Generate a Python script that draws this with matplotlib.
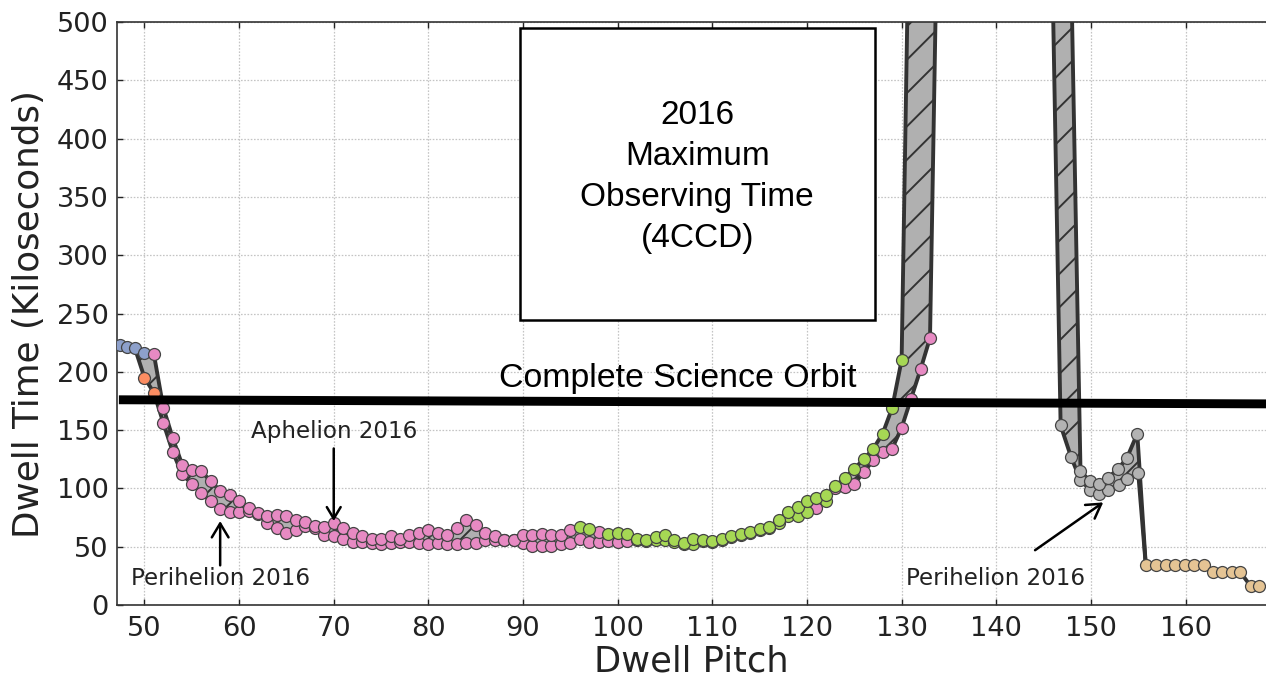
import numpy as np
import matplotlib
matplotlib.use("Agg")
import matplotlib.pyplot as plt
from matplotlib.patches import Rectangle

# ---------------- data ----------------
# main band (pitch 47-134): upper (max) and lower (min) dwell time, ks
main_pitch = [47.4, 48.2, 49, 50, 51, 52, 53, 54, 55, 56, 57, 58, 59, 60, 61, 62, 63, 64,
              65, 66, 67, 68, 69, 70, 71, 72, 73, 74, 75, 76, 77, 78, 79, 80, 81, 82, 83,
              84, 85, 86, 87, 88, 89, 90, 91, 92, 93, 94, 95, 96, 97, 98, 99, 100, 101, 102,
              103, 104, 105, 106, 107, 108, 109, 110, 111, 112, 113, 114, 115, 116, 117, 118,
              119, 120, 121, 122, 123, 124, 125, 126, 127, 128, 129, 130, 131, 132, 133, 134]
main_hi = [223, 221, 220, 216, 215, 169, 143, 120, 116, 115, 106, 98, 94, 89, 83, 79, 76, 77,
           76, 73, 71, 68, 67, 70, 66, 62, 59, 57, 57, 59, 57, 60, 62, 64, 62, 60, 66,
           73, 69, 62, 59, 56, 56, 60, 60, 61, 60, 60, 64, 67, 65, 63, 61, 62, 61, 57,
           56, 58, 60, 56, 53, 57, 56, 55, 57, 59, 61, 63, 65, 67, 73, 80,
           84, 89, 92, 94, 102, 109, 117, 125, 134, 147, 169, 210, 700, 900, 900, 900]
main_lo = [223, 221, 220, 195, 182, 156, 131, 112, 104, 96, 89, 82, 80, 80, 81, 78, 70, 66,
           62, 64, 68, 66, 60, 59, 57, 54, 54, 53, 52, 53, 54, 54, 53, 52, 53, 52, 52,
           53, 53, 56, 56, 56, 56, 53, 51, 51, 51, 52, 53, 57, 54, 54, 55, 54, 55, 56,
           55, 56, 56, 54, 52, 52, 55, 54, 56, 58, 60, 62, 64, 66, 70, 76,
           76, 80, 83, 89, 100, 101, 104, 114, 124, 131, 134, 152, 177, 202, 229, 700]
# marker colour codes per point (b blue, o orange, p pink, g green, - none)
main_hi_col = ("bbbb" + "ppppppppppppppppppppppppppppppppppppppppppppp" + "ggp"
               + "gggggggggggggggggggggggggggggggg" + "----")
main_lo_col = ("---" + "oo" + "pppppppppppppppppppppppppppppppppppppppppppppppppp"
               + "ggggggggggggggggggg" + "pg" + "ppppppppppp" + "-")

# second band (pitch 146-156)
gray_hi_pitch = [146.8, 147.9, 148.9, 149.9, 150.9, 151.8, 152.9, 153.8, 154.9, 155.8]
gray_hi = [1000, 550, 115, 106, 104, 109, 117, 126, 147, 34]
gray_hi_col = "--kkkkkkk-"
gray_lo_pitch = [145.8, 146.8, 147.9, 148.9, 149.9, 150.9, 151.8, 153.0, 153.8, 155.0, 155.8]
gray_lo = [600, 154, 127, 107, 99, 95, 99, 103, 108, 113, 34]
gray_lo_col = "-kkkkkkkkk-"

# tail (pitch 156-168)
tan_pitch = [155.8, 156.9, 157.9, 158.9, 159.9, 160.9, 161.9, 162.9, 163.8, 164.9, 165.8, 166.9, 167.8]
tan_val = [34, 34, 34, 34, 34, 34, 34, 28, 28, 28, 28, 16, 16]

orbit_pitch = [47.3, 168.5]
orbit_val = [176, 172.5]

xticks = [50, 60, 70, 80, 90, 100, 110, 120, 130, 140, 150, 160]
yticks = [0, 50, 100, 150, 200, 250, 300, 350, 400, 450, 500]

palette = {'b': '#8da0cb', 'o': '#fc8d62', 'p': '#e78ac3', 'g': '#a6d854',
           'k': '#b3b3b3', 't': '#e5c494'}

# ---------------- figure ----------------
plt.rcParams['hatch.linewidth'] = 0.7
fig = plt.figure(figsize=(6.33, 3.39), dpi=200)
ax = fig.add_axes([117 / 1266, 73 / 678, 1149 / 1266, 583 / 678])
ax.set_xlim(47.1, 168.5)
ax.set_ylim(0, 500)

LINE = '#333333'
EDGE = '#444444'
MS = 4.3


def band(xh, yh, xl, yl):
    px = np.concatenate([np.asarray(xh, float), np.asarray(xl, float)[::-1]])
    py = np.concatenate([np.asarray(yh, float), np.asarray(yl, float)[::-1]])
    ax.fill(px, py, facecolor='#b0b0b0', edgecolor=LINE, hatch='//', linewidth=0, zorder=2)
    ax.plot(xh, yh, color=LINE, lw=1.4, zorder=3, solid_joinstyle='round')
    ax.plot(xl, yl, color=LINE, lw=1.4, zorder=3, solid_joinstyle='round')


def markers(xs, ys, codes, z=4):
    for code, col in palette.items():
        sx = [x for x, c in zip(xs, codes) if c == code]
        sy = [y for y, c in zip(ys, codes) if c == code]
        if sx:
            ax.plot(sx, sy, 'o', ms=MS, mfc=col, mec=EDGE, mew=0.45, zorder=z)


band(main_pitch, main_hi, main_pitch, main_lo)
band(gray_hi_pitch, gray_hi, gray_lo_pitch, gray_lo)
ax.plot(tan_pitch, tan_val, color=LINE, lw=1.4, zorder=3)

markers(main_pitch, main_lo, main_lo_col, 4)
markers(main_pitch, main_hi, main_hi_col, 4.1)
markers(gray_lo_pitch, gray_lo, gray_lo_col, 4)
markers(gray_hi_pitch, gray_hi, gray_hi_col, 4.1)
markers(tan_pitch, tan_val, 't' * len(tan_pitch), 4)

# complete science orbit line
ax.plot(orbit_pitch, orbit_val, color='black', lw=3.2, zorder=6, solid_capstyle='butt', clip_on=False)
ax.text(106.4, 194, 'Complete Science Orbit', ha='center', va='center',
        fontsize=12.2, family='Liberation Sans', color='black', zorder=7)

# box
ax.add_patch(Rectangle((89.7, 244.4), 37.5, 250.4, facecolor='white', edgecolor='black',
                       lw=0.9, zorder=5))
ax.text(108.4, 367, '2016\nMaximum\nObserving Time\n(4CCD)', ha='center', va='center',
        fontsize=12, family='Liberation Sans', linespacing=1.42, color='black', zorder=6)

# annotations
arrow = dict(arrowstyle='->,head_length=0.5,head_width=0.3', color='black', lw=0.9,
             shrinkA=0, shrinkB=0)
ax.annotate('Aphelion 2016', xy=(70, 72), xytext=(70, 139), ha='center', va='bottom',
            fontsize=8.3, color='#222222', arrowprops=arrow, zorder=7)
ax.annotate('', xy=(58, 72), xytext=(58, 34), arrowprops=arrow, zorder=7)
ax.text(58, 23, 'Perihelion 2016', ha='center', va='center', fontsize=8.3, color='#222222')
ax.annotate('', xy=(151.3, 88), xytext=(144.1, 47), arrowprops=arrow, zorder=7)
ax.text(139.9, 23, 'Perihelion 2016', ha='center', va='center', fontsize=8.3, color='#222222')

# axes styling
ax.set_xticks(xticks)
ax.set_yticks(yticks)
ax.grid(True, color='#c4c4c4', linestyle=(0, (1.3, 1.3)), linewidth=0.45)
ax.set_axisbelow(True)
ax.tick_params(direction='in', length=2, width=0.5, top=True, right=False,
               labelsize=9.8, colors='#222222')
ax.tick_params(axis='x', pad=4)
ax.tick_params(axis='y', pad=3)
for s in ['left', 'bottom', 'top']:
    ax.spines[s].set_linewidth(0.6)
    ax.spines[s].set_color('#333333')
ax.spines['right'].set_visible(False)
ax.set_xlabel('Dwell Pitch', fontsize=12.7, labelpad=1, color='#222222')
ax.set_ylabel('Dwell Time (Kiloseconds)', fontsize=12.9, labelpad=4, color='#222222')

fig.savefig('out.png', dpi=200)
